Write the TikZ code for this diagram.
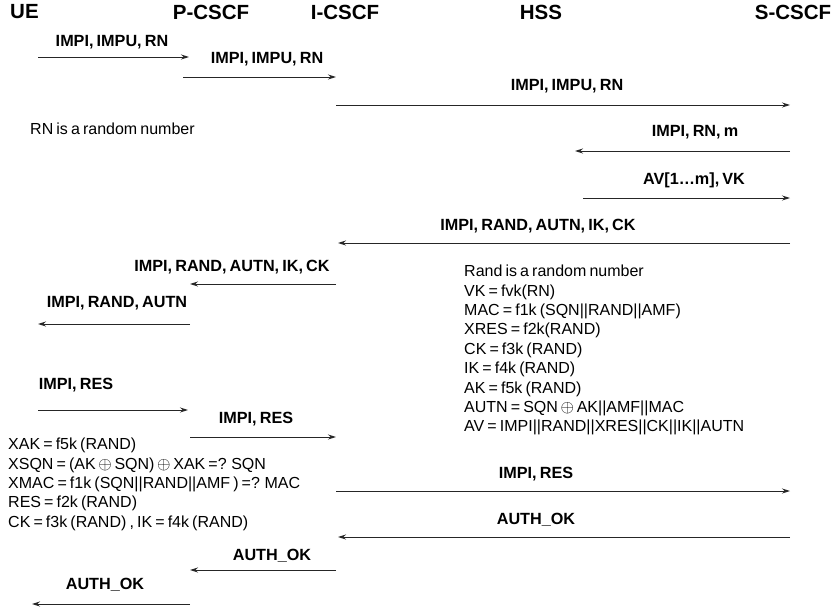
\documentclass[tikz,border=0pt]{standalone}
\usepackage{fontspec}
\setmainfont{Liberation Sans}[WordSpace=0.7]
\usetikzlibrary{arrows.meta}

\tikzset{
  msg/.style={->, line width=0.9pt, draw=black!85},
  ent/.style={font=\fontsize{20.5}{23}\selectfont\bfseries, inner sep=0pt},
  lbl/.style={font=\fontsize{16.2}{19}\selectfont\bfseries, inner sep=0pt},
  note/.style={font=\fontsize{16}{19.4}\selectfont, align=left, anchor=north west, inner sep=0pt},
}

\begin{document}
\begin{tikzpicture}[x=1pt, y=-1pt, >={Stealth[length=8pt,width=5pt]}]
  \useasboundingbox (0,0) rectangle (840,615);

  % Entities
  \node[ent, anchor=west] (ue) at (10,12) {UE};
  \node[ent] (pcscf) at (211,12) {P-CSCF};
  \node[ent] (icscf) at (345,12) {I-CSCF};
  \node[ent] (hss) at (541,12) {HSS};
  \node[ent] (scscf) at (793,12) {S-CSCF};

  % Registration request
  \coordinate (m1a) at (38,57); \coordinate (m1b) at (189,57);
  \draw[msg] (m1a) -- (m1b);
  \node[lbl] (l1) at (112,42) {IMPI, IMPU, RN};

  \coordinate (m2a) at (183,77); \coordinate (m2b) at (336,77);
  \draw[msg] (m2a) -- (m2b);
  \node[lbl] (l2) at (267,59) {IMPI, IMPU, RN};

  \coordinate (m3a) at (336,105); \coordinate (m3b) at (790,105);
  \draw[msg] (m3a) -- (m3b);
  \node[lbl] (l3) at (567,86) {IMPI, IMPU, RN};

  \node[note, anchor=west] (rn) at (30,129) {RN is a random number};

  % Authentication vectors from HSS
  \coordinate (m4a) at (790,151); \coordinate (m4b) at (575,151);
  \draw[msg] (m4a) -- (m4b);
  \node[lbl] (l4) at (695,132) {IMPI, RN, m};

  \coordinate (m5a) at (583,198); \coordinate (m5b) at (790,198);
  \draw[msg] (m5a) -- (m5b);
  \node[lbl] (l5) at (694,180) {AV[1…m], VK};

  % Challenge towards UE
  \coordinate (m6a) at (790,243); \coordinate (m6b) at (338,243);
  \draw[msg] (m6a) -- (m6b);
  \node[lbl] (l6) at (538,226) {IMPI, RAND, AUTN, IK, CK};

  \coordinate (m7a) at (336,284); \coordinate (m7b) at (190,284);
  \draw[msg] (m7a) -- (m7b);
  \node[lbl] (l7) at (232,267) {IMPI, RAND, AUTN, IK, CK};

  \coordinate (m8a) at (190,324); \coordinate (m8b) at (38,324);
  \draw[msg] (m8a) -- (m8b);
  \node[lbl] (l8) at (117,303) {IMPI, RAND, AUTN};

  % HSS computations
  \node[note] (hsscalc) at (464,265) {Rand is a random number\\
    VK = fvk(RN)\\
    MAC = f1k (SQN||RAND||AMF)\\
    XRES = f2k(RAND)\\
    CK = f3k (RAND)\\
    IK = f4k (RAND)\\
    AK = f5k (RAND)\\
    AUTN = SQN\,$\oplus$\,AK||AMF||MAC\\
    AV = IMPI||RAND||XRES||CK||IK||AUTN};

  % Response from UE
  \coordinate (m9a) at (38,410); \coordinate (m9b) at (188,410);
  \draw[msg] (m9a) -- (m9b);
  \node[lbl] (l9) at (76,385) {IMPI, RES};

  \coordinate (m10a) at (190,437); \coordinate (m10b) at (336,437);
  \draw[msg] (m10a) -- (m10b);
  \node[lbl] (l10) at (256,419) {IMPI, RES};

  % UE computations
  \node[note] (uecalc) at (8,438) {XAK = f5k (RAND)\\
    XSQN = (AK\,$\oplus$\,SQN)\,$\oplus$\,XAK =? SQN\\
    XMAC = f1k (SQN||RAND||AMF ) =? MAC\\
    RES = f2k (RAND)\\
    CK = f3k (RAND) , IK = f4k (RAND)};

  \coordinate (m11a) at (336,491); \coordinate (m11b) at (790,491);
  \draw[msg] (m11a) -- (m11b);
  \node[lbl] (l11) at (536,474) {IMPI, RES};

  % Result
  \coordinate (m12a) at (790,537); \coordinate (m12b) at (338,537);
  \draw[msg] (m12a) -- (m12b);
  \node[lbl] (l12) at (536,520) {AUTH\_OK};

  \coordinate (m13a) at (336,570); \coordinate (m13b) at (190,570);
  \draw[msg] (m13a) -- (m13b);
  \node[lbl] (l13) at (272,556) {AUTH\_OK};

  \coordinate (m14a) at (190,604); \coordinate (m14b) at (32,604);
  \draw[msg] (m14a) -- (m14b);
  \node[lbl] (l14) at (105,585) {AUTH\_OK};
\end{tikzpicture}
\end{document}
